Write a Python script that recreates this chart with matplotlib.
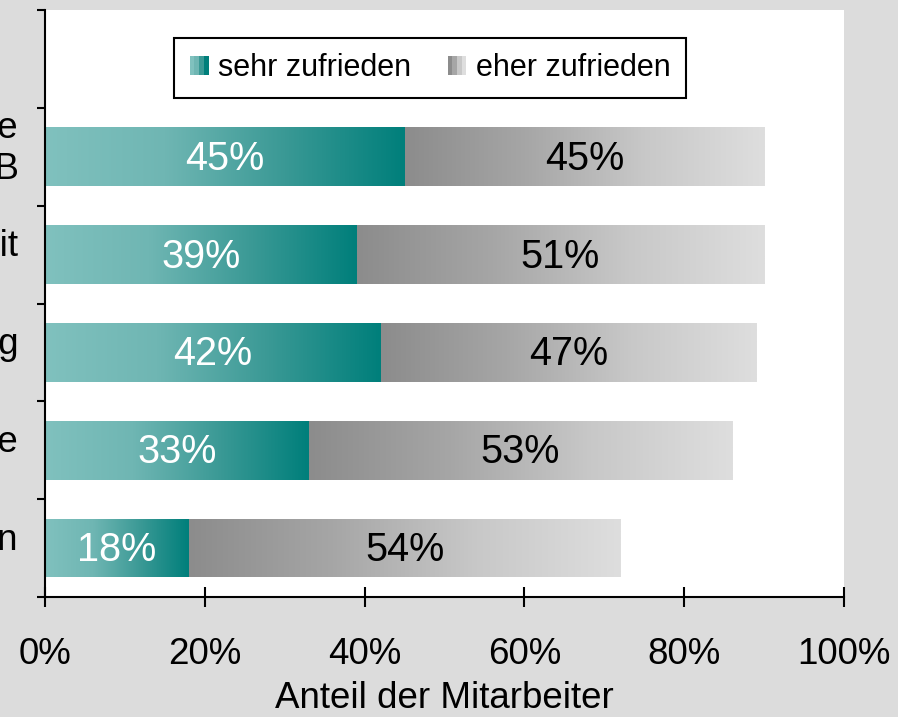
import numpy as np
import matplotlib
matplotlib.use("Agg")
import matplotlib.pyplot as plt
from matplotlib.colors import LinearSegmentedColormap
from matplotlib.patches import Rectangle
from matplotlib.legend_handler import HandlerBase
from matplotlib.ticker import PercentFormatter

plt.rcParams['font.family'] = ['Liberation Sans', 'DejaVu Sans']

# data (top to bottom)
kategorien = ["Allgemeine\nZufriedenheit im UKB", "Zusammenarbeit", "Führung",
              "Arbeitsaufgabe", "Weiterbildungsmöglichkeiten"]
sehr_zufrieden = [45, 39, 42, 33, 18]
eher_zufrieden = [45, 51, 47, 53, 54]
x_ticks = [0, 20, 40, 60, 80, 100]

teal_cmap = LinearSegmentedColormap.from_list("teal", ["#80c1be", "#6fb6b3", "#3a9995", "#007f7b"])
grau_cmap = LinearSegmentedColormap.from_list("grau", ["#8c8c8c", "#a6a6a6", "#c8c8c8", "#dedede"])


def gradient_fill(ax, patches, cmap):
    grad = np.linspace(0, 1, 256).reshape(1, -1)
    for p in patches:
        x, y = p.get_x(), p.get_y()
        w, h = p.get_width(), p.get_height()
        p.set_facecolor("none")
        p.set_edgecolor("none")
        im = ax.imshow(grad, cmap=cmap, aspect="auto", extent=(x, x + w, y, y + h),
                       interpolation="bilinear", zorder=2)
        im.set_clip_path(p)


class GradientHandler(HandlerBase):
    def __init__(self, cmap):
        super().__init__()
        self.cmap = cmap

    def create_artists(self, legend, orig_handle, xdescent, ydescent, width, height, fontsize, trans):
        n = 4
        arts = []
        for i in range(n):
            r = Rectangle((-xdescent + i * width / n, -ydescent), width / n, height,
                          facecolor=self.cmap(i / (n - 1)), edgecolor="none", transform=trans)
            arts.append(r)
        return arts


fig = plt.figure(figsize=(8.98, 7.17), dpi=100, facecolor="#dcdcdc")
ax = fig.add_axes([45 / 898, 1 - 597 / 717, (844 - 45) / 898, (597 - 10) / 717])
ax.set_facecolor("white")

pos = np.arange(len(kategorien))[::-1]
s = np.array(sehr_zufrieden) / 100
e = np.array(eher_zufrieden) / 100
b1 = ax.barh(pos, s, height=0.6, label="sehr zufrieden", zorder=2)
b2 = ax.barh(pos, e, left=s, height=0.6, label="eher zufrieden", zorder=2)
gradient_fill(ax, b1.patches, teal_cmap)
gradient_fill(ax, b2.patches, grau_cmap)

for i in range(len(kategorien)):
    ax.text(s[i] / 2, pos[i] - 0.02, f"{sehr_zufrieden[i]}%", ha="center", va="center",
            color="white", fontsize=28.5, zorder=3)
    ax.text(s[i] + e[i] / 2, pos[i] - 0.02, f"{eher_zufrieden[i]}%", ha="center", va="center",
            color="black", fontsize=28.5, zorder=3)

ax.set_xlim(0, 1)
ax.set_ylim(-0.5, len(kategorien) + 0.5)
ax.set_xticks(np.array(x_ticks) / 100)
ax.xaxis.set_major_formatter(PercentFormatter(1.0, decimals=0))
ax.set_yticks(np.arange(-0.5, len(kategorien) + 0.6, 1))
ax.set_yticklabels([])
for i, k in enumerate(kategorien):
    ax.text(-0.033, pos[i] + 0.08, k, ha="right", va="center", fontsize=26.5,
            linespacing=1.25, transform=ax.transData, clip_on=False)

ax.tick_params(axis="x", direction="inout", length=14, width=1.5, labelsize=26.5, pad=21.5)
ax.tick_params(axis="y", direction="out", length=6, width=1.5)
for sp in ["top", "right"]:
    ax.spines[sp].set_visible(False)
for sp in ["left", "bottom"]:
    ax.spines[sp].set_linewidth(1.5)
ax.set_xlabel("Anteil der Mitarbeiter", fontsize=26.5, labelpad=7)

h1 = Rectangle((0, 0), 1, 1)
h2 = Rectangle((0, 0), 1, 1)
leg = ax.legend([h1, h2], ["sehr zufrieden", "eher zufrieden"], ncol=2,
                loc="center", bbox_to_anchor=((430 - 45) / 799, (597 - 68) / 587),
                handler_map={h1: GradientHandler(teal_cmap), h2: GradientHandler(grau_cmap)},
                fontsize=22, frameon=True, fancybox=False, edgecolor="black",
                handlelength=0.62, handleheight=0.6, handletextpad=0.3, columnspacing=1.2,
                borderpad=0.5, framealpha=1)
leg.get_frame().set_linewidth(1.5)

fig.savefig("out.png", dpi=100, facecolor=fig.get_facecolor())
